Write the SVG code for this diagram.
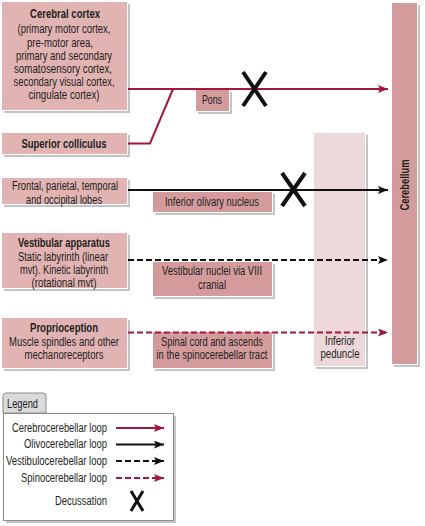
<svg xmlns="http://www.w3.org/2000/svg" width="425" height="526" viewBox="0 0 425 526">
<defs>
<style>
text{font-family:"Liberation Sans",Arial,sans-serif;font-size:12px;fill:#231f20;text-anchor:middle}
.b{font-weight:bold}
.sh{fill:#c4c4c4}
.lt{fill:#e2b3b3;stroke:#ffffff;stroke-width:1}
.dk{fill:#d49b9c;stroke:#ffffff;stroke-width:1}
.pd{fill:#ecd7d9;stroke:#ffffff;stroke-width:1}
.red{stroke:#a3173e;stroke-width:2;fill:none}
.blk{stroke:#111;stroke-width:2;fill:none}
.dash{stroke-dasharray:6 3}
.x{stroke:#111;stroke-width:4;fill:none}
.lg{text-anchor:end}
</style>
<marker id="ar" viewBox="0 0 10 8" refX="10" refY="4" markerWidth="10" markerHeight="8" markerUnits="userSpaceOnUse" orient="auto"><path d="M0,0L10,4L0,8L2,4Z" fill="#a3173e"/></marker>
<marker id="ab" viewBox="0 0 10 8" refX="10" refY="4" markerWidth="10" markerHeight="8" markerUnits="userSpaceOnUse" orient="auto"><path d="M0,0L10,4L0,8L2,4Z" fill="#111"/></marker>
</defs>

<g id="cerebellum">
<rect class="sh" x="394" y="5" width="26" height="362"/>
<rect class="dk" x="391.5" y="2.5" width="26" height="362"/>
<text class="b" transform="translate(409,185) rotate(-90)" textLength="51" lengthAdjust="spacingAndGlyphs">Cerebellum</text>
</g>

<g id="inferior-peduncle">
<rect class="sh" x="316" y="135" width="52" height="234"/>
<rect class="pd" x="313.5" y="132.5" width="52" height="234"/>
<text x="340" y="345" textLength="30" lengthAdjust="spacingAndGlyphs">Inferior</text>
<text x="340" y="358" textLength="39" lengthAdjust="spacingAndGlyphs">peduncle</text>
</g>

<g id="cerebral-cortex">
<rect class="sh" x="4" y="4" width="126" height="109"/>
<rect class="lt" x="1.5" y="1.5" width="126" height="109"/>
<text class="b" x="65" y="18" textLength="70" lengthAdjust="spacingAndGlyphs">Cerebral cortex</text>
<text x="64" y="33" textLength="93" lengthAdjust="spacingAndGlyphs">(primary motor cortex,</text>
<text x="60" y="47" textLength="66" lengthAdjust="spacingAndGlyphs">pre-motor area,</text>
<text x="64" y="60" textLength="96" lengthAdjust="spacingAndGlyphs">primary and secondary</text>
<text x="63" y="73" textLength="98" lengthAdjust="spacingAndGlyphs">somatosensory cortex,</text>
<text x="64" y="86" textLength="101" lengthAdjust="spacingAndGlyphs">secondary visual cortex,</text>
<text x="64" y="99" textLength="71" lengthAdjust="spacingAndGlyphs">cingulate cortex)</text>
</g>

<g id="superior-colliculus">
<rect class="sh" x="4" y="135" width="126" height="22"/>
<rect class="lt" x="1.5" y="132.5" width="126" height="22"/>
<text class="b" x="64" y="148" textLength="85" lengthAdjust="spacingAndGlyphs">Superior colliculus</text>
</g>

<g id="pons">
<rect class="sh" x="198" y="92" width="34" height="22"/>
<rect class="dk" x="195.5" y="89.5" width="34" height="22"/>
<text x="212" y="104" textLength="20" lengthAdjust="spacingAndGlyphs">Pons</text>
</g>

<g id="frontal-lobes">
<rect class="sh" x="4" y="180" width="126" height="27"/>
<rect class="lt" x="1.5" y="177.5" width="126" height="27"/>
<text x="65" y="190" textLength="106" lengthAdjust="spacingAndGlyphs">Frontal, parietal, temporal</text>
<text x="64" y="204" textLength="76" lengthAdjust="spacingAndGlyphs">and occipital lobes</text>
</g>

<g id="inferior-olivary-nucleus">
<rect class="sh" x="155" y="194" width="120" height="21"/>
<rect class="dk" x="152.5" y="191.5" width="120" height="21"/>
<text x="212" y="206" textLength="94" lengthAdjust="spacingAndGlyphs">Inferior olivary nucleus</text>
</g>

<g id="vestibular-apparatus">
<rect class="sh" x="4" y="235" width="126" height="56"/>
<rect class="lt" x="1.5" y="232.5" width="126" height="56"/>
<text class="b" x="64" y="247" textLength="92" lengthAdjust="spacingAndGlyphs">Vestibular apparatus</text>
<text x="63" y="261" textLength="90" lengthAdjust="spacingAndGlyphs">Static labyrinth (linear</text>
<text x="64" y="274" textLength="88" lengthAdjust="spacingAndGlyphs">mvt). Kinetic labyrinth</text>
<text x="64" y="287" textLength="65" lengthAdjust="spacingAndGlyphs">(rotational mvt)</text>
</g>

<g id="vestibular-nuclei">
<rect class="sh" x="155" y="264" width="120" height="35"/>
<rect class="dk" x="152.5" y="261.5" width="120" height="35"/>
<text x="212" y="275" textLength="100" lengthAdjust="spacingAndGlyphs">Vestibular nuclei via VIII</text>
<text x="212" y="289" textLength="28" lengthAdjust="spacingAndGlyphs">cranial</text>
</g>

<g id="proprioception">
<rect class="sh" x="4" y="320" width="126" height="51"/>
<rect class="lt" x="1.5" y="317.5" width="126" height="51"/>
<text class="b" x="64" y="332" textLength="68" lengthAdjust="spacingAndGlyphs">Proprioception</text>
<text x="64" y="346" textLength="110" lengthAdjust="spacingAndGlyphs">Muscle spindles and other</text>
<text x="64" y="359" textLength="79" lengthAdjust="spacingAndGlyphs">mechanoreceptors</text>
</g>

<g id="spinal-cord">
<rect class="sh" x="155" y="334" width="120" height="37"/>
<rect class="dk" x="152.5" y="331.5" width="120" height="37"/>
<text x="212" y="346" textLength="102" lengthAdjust="spacingAndGlyphs">Spinal cord and ascends</text>
<text x="212" y="359" textLength="111" lengthAdjust="spacingAndGlyphs">in the spinocerebellar tract</text>
</g>

<g id="connectors">
<path class="red" d="M128,89H388" marker-end="url(#ar)"/>
<path class="red" d="M128,143.5H150L173,89"/>
<path class="blk" d="M128,190H388" marker-end="url(#ab)"/>
<path class="blk dash" d="M128,260H388" marker-end="url(#ab)"/>
<path class="red dash" d="M128,332.5H388" marker-end="url(#ar)"/>
</g>

<g id="decussation-1">
<path class="x" d="M243,72L266,106M266,72L243,106"/>
</g>
<g id="decussation-2">
<path class="x" d="M282,173L305,206M305,173L282,206"/>
</g>

<g id="legend">
<path d="M3,413V396a3,3 0 0 1 3,-3H43a3,3 0 0 1 3,3V413Z" fill="#dadada" stroke="#8c8c8c" stroke-width="1"/>
<rect x="6" y="416" width="170" height="107" fill="#c4c4c4"/>
<rect x="3.5" y="413.5" width="170" height="107" fill="#ffffff" stroke="#8c8c8c" stroke-width="1"/>
<text x="7" y="408" style="text-anchor:start" textLength="31" lengthAdjust="spacingAndGlyphs">Legend</text>
<text class="lg" x="107" y="432" textLength="95" lengthAdjust="spacingAndGlyphs">Cerebrocerebellar loop</text>
<text class="lg" x="107" y="448" textLength="83" lengthAdjust="spacingAndGlyphs">Olivocerebellar loop</text>
<text class="lg" x="107" y="465" textLength="101" lengthAdjust="spacingAndGlyphs">Vestibulocerebellar loop</text>
<text class="lg" x="107" y="482" textLength="86" lengthAdjust="spacingAndGlyphs">Spinocerebellar loop</text>
<text class="lg" x="107" y="505" textLength="52" lengthAdjust="spacingAndGlyphs">Decussation</text>
<path class="red" d="M116,428H164" marker-end="url(#ar)"/>
<path class="blk" d="M116,444.5H164" marker-end="url(#ab)"/>
<path class="blk dash" d="M116,461H164" marker-end="url(#ab)"/>
<path class="red dash" d="M116,478H164" marker-end="url(#ar)"/>
<path class="x" style="stroke-width:3" d="M131,491L143,511M143,491L131,511"/>
</g>
</svg>
